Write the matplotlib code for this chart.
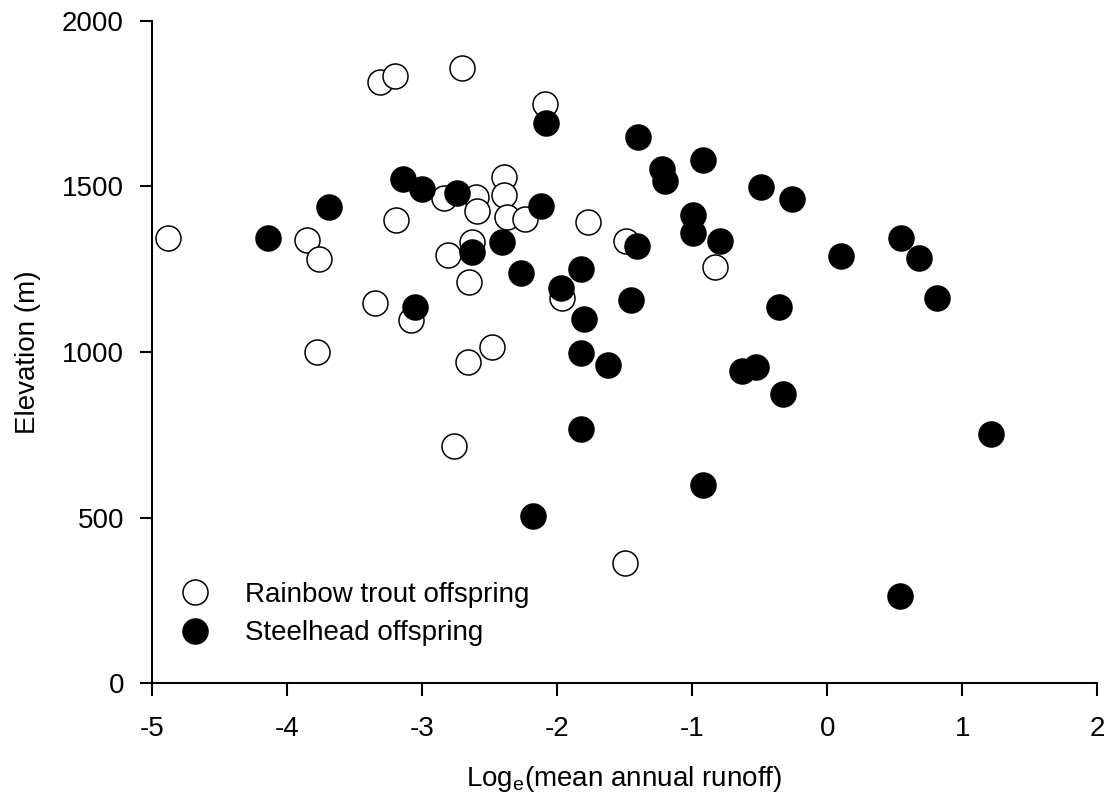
import numpy as np
import matplotlib
matplotlib.use("Agg")
from matplotlib import pyplot as plt

plt.rcParams["font.family"] = ["Liberation Sans", "DejaVu Sans"]
plt.rcParams["mathtext.fontset"] = "custom"
plt.rcParams["mathtext.rm"] = "Liberation Sans"
plt.rcParams["axes.unicode_minus"] = False

# rainbow trout offspring: log_e(mean annual runoff), elevation (m)
rt_x = [-4.88, -3.85, -3.76, -3.78, -3.35, -3.31, -3.20, -3.19, -3.08, -2.84,
        -2.81, -2.76, -2.70, -2.66, -2.65, -2.63, -2.60, -2.59, -2.48, -2.39,
        -2.39, -2.37, -2.24, -2.09, -1.96, -1.77, -1.50, -1.49, -0.83]
rt_y = [1343, 1337, 1282, 1000, 1147, 1814, 1834, 1398, 1098, 1466,
        1294, 717, 1856, 969, 1212, 1332, 1468, 1425, 1016, 1528,
        1475, 1408, 1400, 1749, 1162, 1392, 364, 1336, 1257]

# steelhead offspring
sh_x = [-4.14, -3.69, -3.14, -3.05, -3.00, -2.74, -2.63, -2.41, -2.27, -2.18,
        -2.12, -2.08, -1.97, -1.82, -1.80, -1.82, -1.82, -1.62, -1.45, -1.41,
        -1.40, -1.22, -1.20, -0.99, -0.99, -0.92, -0.92, -0.79, -0.63, -0.53,
        -0.49, -0.36, -0.33, -0.26, 0.10, 0.54, 0.55, 0.68, 0.81, 1.21]
sh_y = [1345, 1438, 1523, 1135, 1491, 1481, 1302, 1332, 1237, 506,
        1441, 1691, 1192, 1250, 1101, 998, 768, 961, 1157, 1319,
        1648, 1553, 1516, 1413, 1358, 1578, 599, 1335, 944, 954,
        1498, 1135, 873, 1463, 1290, 265, 1345, 1285, 1164, 752]

fs = 20

fig = plt.figure(figsize=(11.1, 8.01), dpi=100)
ax = fig.add_axes([0.1367, 0.1469, 0.8519, 0.8273])

ax.plot(rt_x, rt_y, "o", ms=18, mfc="white", mec="black", mew=1.1,
        label="Rainbow trout offspring")
ax.plot(sh_x, sh_y, "o", ms=18, mfc="black", mec="black", mew=1.1,
        label="Steelhead offspring")

ax.set_xlim(-5, 2)
ax.set_ylim(0, 2000)
ax.set_xticks(np.arange(-5, 3, 1))
ax.set_yticks(np.arange(0, 2001, 500))

for s in ["top", "right"]:
    ax.spines[s].set_visible(False)
for s in ["left", "bottom"]:
    ax.spines[s].set_linewidth(1.5)

ax.tick_params(axis="both", direction="out", length=9, width=1.5, labelsize=fs)
ax.tick_params(axis="x", pad=14.5)
ax.tick_params(axis="y", pad=11)

ax.set_xlabel(r"Log$_\mathregular{e}$(mean annual runoff)", fontsize=fs)
ax.set_ylabel("Elevation (m)", fontsize=fs)
ax.xaxis.set_label_coords(0.5, -0.122)
ax.yaxis.set_label_coords(-0.117, 0.5)

ax.legend(loc="lower left", bbox_to_anchor=(-0.004, 0.0055), frameon=False,
          fontsize=fs, handlelength=1.0, handletextpad=1.31, labelspacing=0.45,
          borderaxespad=0.8)

plt.savefig("out.png", dpi=100)
